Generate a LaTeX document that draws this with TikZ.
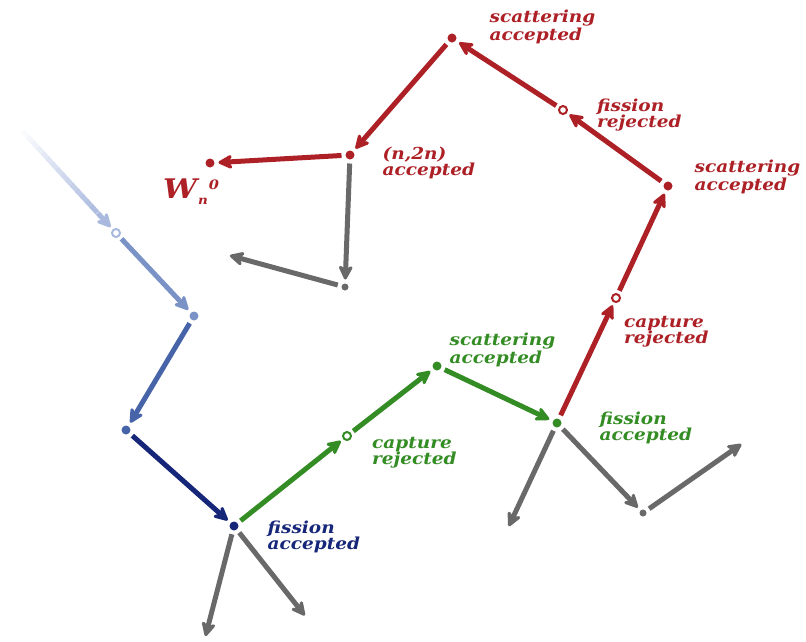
\documentclass[tikz,border=0pt]{standalone}
\usepackage{fontspec}
\setmainfont{DejaVu Serif}[FakeStretch=1.12]
\usetikzlibrary{positioning, arrows.meta, calc}
\definecolor{redpath}{RGB}{172,32,38}
\definecolor{greenpath}{RGB}{52,140,36}
\definecolor{navypath}{RGB}{22,38,120}
\definecolor{bluemid}{RGB}{72,100,168}
\definecolor{bluelight}{RGB}{122,146,198}
\definecolor{bluepale}{RGB}{170,186,222}
\definecolor{greyarrow}{RGB}{105,105,105}

\begin{document}
\begin{tikzpicture}[
    x=1pt, y=-1pt,
    font=\bfseries\itshape\fontsize{16.5}{16}\selectfont,
    arrow/.style={-{Stealth[length=18pt, width=18pt, inset=6pt, round]}, line width=5pt, shorten <=2pt, shorten >=2pt},
    dot/.style={circle, fill, inner sep=0pt, minimum size=9pt, outer sep=2pt},
    hollow/.style={circle, draw, line width=2pt, fill=white, inner sep=0pt, minimum size=8pt, outer sep=2pt},
    lbl/.style={inner sep=0pt, align=left, node distance=0pt}
]
\useasboundingbox (0,0) rectangle (806,641);

%% BLUE PART - incoming neutron %%
\coordinate (src) at (18,126);
\node (o1) [hollow, draw=bluepale] at (116,233) {};
\node (b1) [dot, fill=bluelight] at (194,316) {};
\node (b2) [dot, fill=bluemid] at (126,430) {};
\node (f1) [dot, fill=navypath] at (234,526) {};
\node (f1lbl) [lbl, text=navypath, right=27pt of f1, yshift=-11pt] {fission\\accepted};

%% GREEN PART %%
\node (c1) [hollow, draw=greenpath] at (347,436) {};
\node (c1lbl) [lbl, text=greenpath, right=19pt of c1, yshift=-17pt] {capture\\rejected};
\node (s1) [dot, fill=greenpath] at (437,366) {};
\node (s1lbl) [lbl, text=greenpath, right=6pt of s1, yshift=16pt] {scattering\\accepted};
\node (f2) [dot, fill=greenpath] at (557,423) {};
\node (f2lbl) [lbl, text=greenpath, right=36pt of f2, yshift=-5pt] {fission\\accepted};

%% RED PART %%
\node (c2) [hollow, draw=redpath] at (616,298) {};
\node (c2lbl) [lbl, text=redpath, right=2pt of c2, yshift=-34pt] {capture\\rejected};
\node (s2) [dot, fill=redpath] at (668,186) {};
\node (s2lbl) [lbl, text=redpath, right=20pt of s2, yshift=9pt] {scattering\\accepted};
\node (r1) [hollow, draw=redpath] at (563,110) {};
\node (r1lbl) [lbl, text=redpath, right=28pt of r1, yshift=-5pt] {fission\\rejected};
\node (s3) [dot, fill=redpath] at (452,38) {};
\node (s3lbl) [lbl, text=redpath, right=31pt of s3, yshift=11pt] {scattering\\accepted};
\node (n1) [dot, fill=redpath] at (350,155) {};
\node (n1lbl) [lbl, text=redpath, right=26pt of n1, yshift=-8pt] {(n,2n)\\accepted};
\node (w) [dot, fill=redpath] at (210,163) {};
\node (wlbl) [lbl, text=redpath, below=9pt of w, xshift=-19pt] {\fontsize{27}{27}\selectfont W\kern1pt\raisebox{-6pt}{\fontsize{12}{12}\selectfont n}\kern1pt\raisebox{9pt}{\fontsize{13}{13}\selectfont 0}};

%% GREY SECONDARIES %%
\node (g1) [dot, fill=greyarrow, minimum size=7pt] at (345,287) {};
\coordinate (g1end) at (228,255);
\coordinate (f1a) at (205,638);
\coordinate (f1b) at (306,617);
\coordinate (f2a) at (508,528);
\node (g2) [dot, fill=greyarrow, minimum size=7pt] at (643,513) {};
\coordinate (g2end) at (743,443);

%% ARROWS %%
\foreach \t in {0,0.05,...,0.8}
    \draw [line width=5pt, color=bluepale!\fpeval{100*\t/0.8}!white]
        ($(src)!\t!(o1)$) -- ($(src)!\t+0.06!(o1)$);
\draw [arrow, bluepale] ($(src)!0.8!(o1)$) -- (o1);
\draw [arrow, bluelight] (o1) -- (b1);
\draw [arrow, bluemid] (b1) -- (b2);
\draw [arrow, navypath] (b2) -- (f1);

\draw [arrow, greenpath] (f1) -- (c1);
\draw [arrow, greenpath] (c1) -- (s1);
\draw [arrow, greenpath] (s1) -- (f2);

\draw [arrow, redpath] (f2) -- (c2);
\draw [arrow, redpath] (c2) -- (s2);
\draw [arrow, redpath] (s2) -- (r1);
\draw [arrow, redpath] (r1) -- (s3);
\draw [arrow, redpath] (s3) -- (n1);
\draw [arrow, redpath] (n1) -- (w);

\draw [arrow, greyarrow] (n1) -- (g1);
\draw [arrow, greyarrow] (g1) -- (g1end);
\draw [arrow, greyarrow] (f1) -- (f1a);
\draw [arrow, greyarrow] (f1) -- (f1b);
\draw [arrow, greyarrow] (f2) -- (f2a);
\draw [arrow, greyarrow] (f2) -- (g2);
\draw [arrow, greyarrow] (g2) -- (g2end);

\end{tikzpicture}
\end{document}
